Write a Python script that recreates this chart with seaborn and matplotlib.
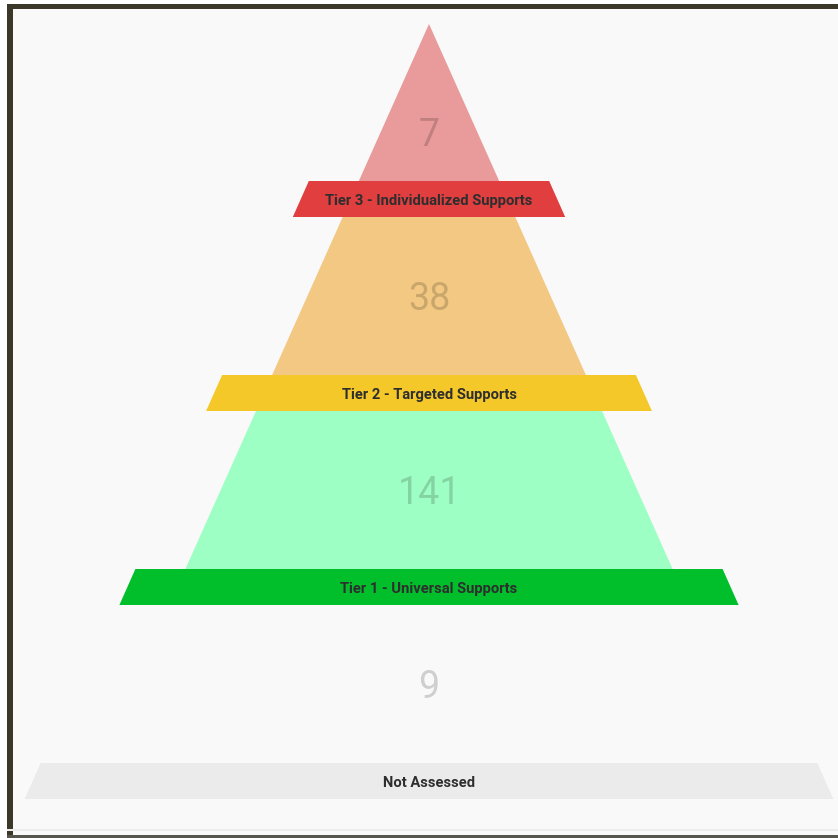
import matplotlib
matplotlib.use("Agg")
import matplotlib.pyplot as plt
from matplotlib.patches import Rectangle
import seaborn as sns

# tiers from top of the pyramid down
tiers = ["Tier 3 - Individualized Supports", "Tier 2 - Targeted Supports",
         "Tier 1 - Universal Supports", "Not Assessed"]
counts = [7, 38, 141, 9]
fill_colors = ["#e99a9b", "#f2c882", "#9effc4", None]
band_colors = ["#e03e3f", "#f5c82a", "#00bf2b", "#ebebeb"]

# layout (pixel units, y grows downwards)
W = H = 838
CX = 429
APEX_Y = 24
SLOPE = 0.447
FIRST_BAND = 181
SPACING = 194
BAND_H = 36
OVERHANG = [50, 50, 50, 58]
SKEW = 16
NUM_Y_TOP = 136
NUM_DY = 3

sns.set_theme(style="white")
plt.rcParams["font.family"] = ["Roboto", "DejaVu Sans"]

fig = plt.figure(figsize=(W / 100, H / 100), dpi=100)
fig.patch.set_facecolor("white")
ax = fig.add_axes([0, 0, 1, 1])
ax.set_xlim(0, W)
ax.set_ylim(H, 0)
ax.axis("off")

# frame
ax.add_patch(Rectangle((7, 4), W, 832, facecolor="#f9f9f9", edgecolor="none", zorder=0))
ax.add_patch(Rectangle((7, 4), 5.5, 832, facecolor="#3b3829", edgecolor="none", zorder=5))
ax.add_patch(Rectangle((7, 4), W, 5.5, facecolor="#3b3829", edgecolor="none", zorder=5))
ax.add_patch(Rectangle((7, 829), W, 2, facecolor="#ececec", edgecolor="none", zorder=5))
ax.add_patch(Rectangle((7, 835), W, 3, facecolor="#55554d", edgecolor="none", zorder=5))


def half(y):
    return (y - APEX_Y) * SLOPE


for i, (name, n, fc, bc) in enumerate(zip(tiers, counts, fill_colors, band_colors)):
    band_top = FIRST_BAND + i * SPACING
    sec_top = APEX_Y if i == 0 else band_top - SPACING + BAND_H
    sec_bot = band_top
    if fc is not None:
        xs = [CX - half(sec_top), CX + half(sec_top), CX + half(sec_bot + 2), CX - half(sec_bot + 2)]
        ys = [sec_top, sec_top, sec_bot + 2, sec_bot + 2]
        ax.fill(xs, ys, color=fc, lw=0, zorder=1)
    num_y = NUM_Y_TOP if i == 0 else (sec_top + sec_bot) / 2 + NUM_DY
    ax.text(CX, num_y, str(n), ha="center", va="center", fontsize=27,
            color="black", alpha=0.17, zorder=2)
    ht = half(band_top) + OVERHANG[i]
    hb = ht + SKEW
    ax.fill([CX - ht, CX + ht, CX + hb, CX - hb],
            [band_top, band_top, band_top + BAND_H, band_top + BAND_H],
            color=bc, lw=0, zorder=3)
    ax.text(CX, band_top + BAND_H / 2 + 1.5, name, ha="center", va="center",
            fontsize=10.6, fontweight="bold", color="#2e2e2e", zorder=4)

fig.savefig("out.png", dpi=100)
